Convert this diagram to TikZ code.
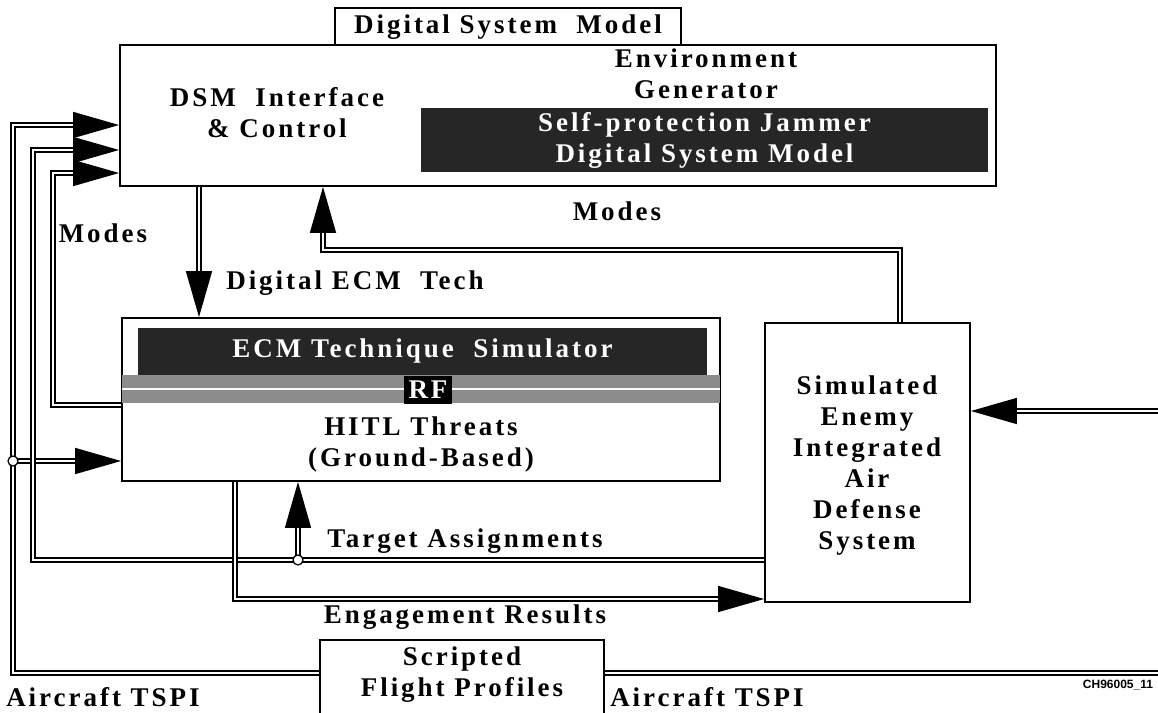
\documentclass[tikz,border=0pt]{standalone}
\usepackage{fontspec}
\setmainfont{Liberation Serif}[LetterSpace=11]
\setsansfont{Liberation Sans}
\usetikzlibrary{arrows.meta,positioning,fit}

\tikzset{
  blk/.style={draw, line width=0.9pt, fill=white, inner sep=0pt},
  dark/.style={fill=black!85, inner sep=0pt},
  lbl/.style={font=\fontsize{13.5}{15.5}\selectfont\bfseries, align=center, inner sep=1pt},
  wlbl/.style={lbl, text=white},
  wire/.style={line width=0.75pt, double=white, double distance=1.3pt},
  tip/.style={-{Triangle[length=23pt,width=13pt]}},
  jn/.style={circle, draw, fill=white, line width=0.6pt, inner sep=0pt, minimum size=5pt},
}

\begin{document}
\begin{tikzpicture}[x=0.5pt, y=-0.5pt]
    \useasboundingbox (0,0) rectangle (1158,713);
    \clip (0,0) rectangle (1158,713);

    % digital system model
    \node[blk, fit={(335,8) (681,45)}] (tab) {};
    \node[lbl] (tabtxt) at (508,27) {Digital System~ Model};
    \node[blk, fit={(120,45) (996,186)}] (dsm) {};
    \node[lbl] (dsmctl) at (277,113) {DSM~ Interface\\\& Control};
    \node[dark, fit={(421,108) (988,172)}] (jammer) {};
    \node[wlbl] (jamtxt) at (jammer) {Self-protection Jammer\\Digital System Model};
    \node[lbl] (envgen) at (706,74) {Environment\\Generator};

    % threats
    \node[blk, fit={(122,318) (720,481)}] (ecm) {};
    \node[dark, fit={(138,328) (707,375)}] (ecmband) {};
    \node[wlbl] (ecmtxt) at (ecmband) {ECM Technique~ Simulator};
    \node[fill=black!45, inner sep=0pt, fit={(122,375) (720,403)}] (rfband) {};
    \draw[white, line width=0.8pt] (rfband.west) -- (rfband.east);
    \node[wlbl, fill=black, minimum width=24pt, minimum height=14pt] (rf) at (428,390) {RF};
    \node[lbl] (hitl) at (421,444) {HITL Threats\\(Ground-Based)};

    % air defense
    \node[blk, fit={(765,323) (970,602)}] (iads) {};
    \node[lbl] (iadstxt) at (867,466) {Simulated\\Enemy\\Integrated\\Air\\Defense\\System};

    % flight profiles
    \node[blk, fit={(320,640) (604,720)}] (scripted) {};
    \node[lbl] (scrtxt) at (462,675) {Scripted\\Flight Profiles};

    \coordinate (jA) at (13,461);
    \coordinate (jT) at (298,560);
    \coordinate (ext) at (1158,411);
    \coordinate (tspiR) at (1158,673);

    % connectors
    \draw[wire, tip] (scripted.west |- 0,673) -| (jA) |- (dsm.west |- 0,125);
    \draw[wire, tip] (jA) -- (ecm.west |- jA);
    \draw[wire, tip] (iads.west |- jT) -| (33,150) -- (dsm.west |- 0,150);
    \draw[wire, tip] (jT) -- (ecm.south -| jT);
    \draw[wire, tip] (ecm.west |- 0,405) -| (53,173) -- (dsm.west |- 0,173);
    \draw[wire, tip] (dsm.south -| 199,0) -- (ecm.north -| 199,0);
    \draw[wire, tip] (iads.north -| 900,0) |- (323,250) -- (dsm.south -| 323,0);
    \draw[wire, tip] (ecm.south -| 235,0) |- (iads.west |- 0,599);
    \draw[wire, tip] (ext) -- (iads.east |- ext);
    \draw[wire] (scripted.east |- tspiR) -- (tspiR);
    \node[jn] (jnA) at (jA) {};
    \node[jn] (jnT) at (jT) {};

    % labels
    \node[lbl] (modesR) at (617,211) {Modes};
    \node[lbl] (modesL) at (103,233) {Modes};
    \node[lbl] (ecmtech) at (355,283) {Digital ECM~ Tech};
    \node[lbl] (tgt) at (465,541) {Target Assignments};
    \node[lbl] (eng) at (465,617) {Engagement Results};
    \node[lbl] (tspiL) at (103,697) {Aircraft TSPI};
    \node[lbl] (tspiRl) at (707,697) {Aircraft TSPI};
    \node[font=\fontsize{6}{7}\sffamily\bfseries] (figid) at (1118,685) {CH96005\_11};
\end{tikzpicture}
\end{document}
